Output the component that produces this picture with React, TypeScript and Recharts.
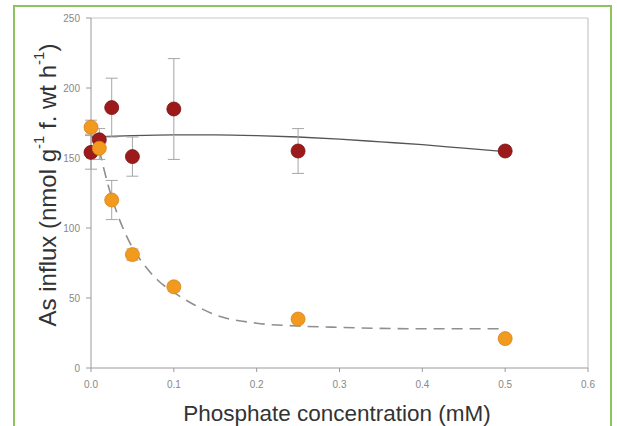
import React from "react";
import {
  ComposedChart,
  Line,
  Scatter,
  XAxis,
  YAxis,
  ErrorBar,
  ReferenceLine,
} from "recharts";

// Measured points: dark red series (+ error)
const redX = [0, 0.01, 0.025, 0.05, 0.1, 0.25, 0.5];
const redY = [154, 163, 186, 151, 185, 155, 155];
const redErr = [12, 8, 21, 14, 36, 16, 0];

// Measured points: orange series (+ error)
const orangeX = [0, 0.01, 0.025, 0.05, 0.1, 0.25, 0.5];
const orangeY = [172, 157, 120, 81, 58, 35, 21];
const orangeErr = [5, 8, 14, 4, 3, 2, 3];

// Fitted curve (solid)
const solidFitX = [0, 0.05, 0.1, 0.15, 0.2, 0.25, 0.3, 0.35, 0.4, 0.45, 0.5];
const solidFitY = [165, 166, 166.5, 166.5, 166, 165, 163.5, 161.5, 159.5, 157, 154.5];

// Fitted curve (dashed)
const dashFitX = [0.01, 0.02, 0.03, 0.04, 0.05, 0.06, 0.08, 0.1, 0.125, 0.15, 0.2, 0.25, 0.3, 0.4, 0.5];
const dashFitY = [156, 132, 113, 98, 86, 77, 63, 54, 45, 38, 32, 30, 29, 28, 28];

const xTicks = [0, 0.1, 0.2, 0.3, 0.4, 0.5, 0.6];
const yTicks = [0, 50, 100, 150, 200, 250];

const xTitle = "Phosphate concentration (mM)";

const redData = redX.map((x, i) => ({ x, y: redY[i], err: redErr[i] }));
const orangeData = orangeX.map((x, i) => ({ x, y: orangeY[i], err: orangeErr[i] }));
const solidData = solidFitX.map((x, i) => ({ x, fit: solidFitY[i] }));
const dashData = dashFitX.map((x, i) => ({ x, fit: dashFitY[i] }));

const FONT = "'Liberation Sans', Arial, sans-serif";

const dot = (fill: string, stroke: string) => (props: any) => (
  <circle cx={props.cx} cy={props.cy} r={7} fill={fill} stroke={stroke} strokeWidth={0.8} />
);

export default function App() {
  return (
    <div
      style={{
        position: "absolute",
        left: 0,
        top: 0,
        width: 617,
        height: 426,
        overflow: "hidden",
        background: "#fff",
      }}
    >
      <div
        style={{
          position: "absolute",
          left: 13,
          top: 5,
          width: 595,
          height: 440,
          border: "2px solid #8ec15f",
        }}
      />
      <div style={{ position: "absolute", left: 0, top: 0 }}>
        <ComposedChart
          width={617}
          height={426}
          margin={{ top: 18, right: 29, bottom: 28, left: 51 }}
        >
          <XAxis
            type="number"
            dataKey="x"
            domain={[0, 0.6]}
            ticks={xTicks}
            tickFormatter={(v: number) => v.toFixed(1)}
            allowDuplicatedCategory={false}
            height={30}
            stroke="#9a9a9a"
            tickSize={4}
            tickMargin={9}
            tick={{ fontSize: 10, fill: "#888", fontFamily: FONT }}
            label={{
              content: () => (
                <text
                  x={337}
                  y={421}
                  textAnchor="middle"
                  fontSize={22.5}
                  fill="#333"
                  fontFamily={FONT}
                >
                  {xTitle}
                </text>
              ),
            }}
          />
          <YAxis
            type="number"
            domain={[0, 250]}
            ticks={yTicks}
            width={40}
            stroke="#9a9a9a"
            tickSize={5}
            tickMargin={6}
            tick={{ fontSize: 10, fill: "#888", fontFamily: FONT }}
            label={{
              content: () => (
                <text
                  x={47}
                  y={185}
                  transform="rotate(-90, 47, 185)"
                  textAnchor="middle"
                  dominantBaseline="central"
                  fontSize={24}
                  fill="#333"
                  fontFamily={FONT}
                >
                  As influx (nmol g
                  <tspan dy={-9} fontSize={15}>-1</tspan>
                  <tspan dy={9}> f. wt h</tspan>
                  <tspan dy={-9} fontSize={15}>-1</tspan>
                  <tspan dy={9}>)</tspan>
                </text>
              ),
            }}
          />
          <ReferenceLine y={250} stroke="#c8c8c8" strokeWidth={1.2} ifOverflow="extendDomain" />
          <ReferenceLine x={0.6} stroke="#c8c8c8" strokeWidth={1.2} ifOverflow="extendDomain" />
          <Line
            data={solidData}
            dataKey="fit"
            type="monotone"
            stroke="#555"
            strokeWidth={1.3}
            dot={false}
            activeDot={false}
            isAnimationActive={false}
          />
          <Line
            data={dashData}
            dataKey="fit"
            type="monotone"
            stroke="#8f8f8f"
            strokeWidth={1.6}
            strokeDasharray="11 7"
            dot={false}
            activeDot={false}
            isAnimationActive={false}
          />
          <Scatter
            data={redData}
            dataKey="y"
            fill="#9c1a1a"
            shape={dot("#9c1a1a", "#7a1010")}
            isAnimationActive={false}
          >
            <ErrorBar dataKey="err" direction="y" width={6} stroke="#a5a5a5" strokeWidth={1} />
          </Scatter>
          <Scatter
            data={orangeData}
            dataKey="y"
            fill="#f29a1d"
            shape={dot("#f29a1d", "#d9811a")}
            isAnimationActive={false}
          >
            <ErrorBar dataKey="err" direction="y" width={6} stroke="#a5a5a5" strokeWidth={1} />
          </Scatter>
        </ComposedChart>
      </div>
    </div>
  );
}
